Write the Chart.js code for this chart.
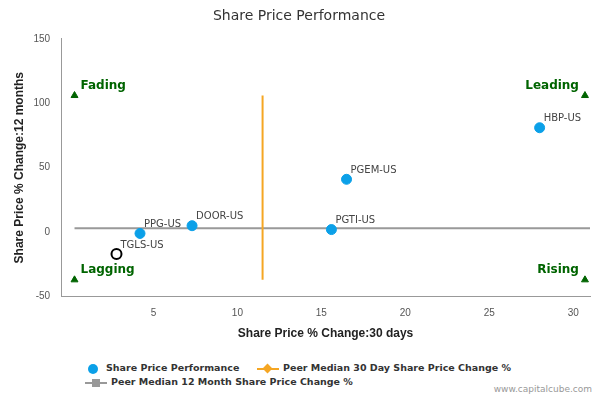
<!DOCTYPE html>
<html><head><meta charset="utf-8">
<script src="https://cdn.jsdelivr.net/npm/chart.js@4/dist/chart.umd.min.js"></script>
<style>
body{margin:0;width:600px;height:400px;background:#fff;font-family:"DejaVu Sans",sans-serif;position:relative}
#wrap{position:absolute;left:0;top:0;width:600px;height:345px}
#leg{position:absolute;left:85px;top:362px;font-size:9.5px;font-weight:bold;color:#333}
.it{position:absolute;white-space:nowrap}
#wm{position:absolute;right:8px;bottom:6px;font-size:9px;color:#999}
</style></head><body>
<div id="wrap"><canvas id="c"></canvas></div>
<div id="leg">
<div class="it" style="left:0;top:0"><span style="display:inline-block;width:10px;height:10px;border-radius:50%;background:#0ba0e8;vertical-align:middle;margin:0 8px 0 3px"></span>Share Price Performance</div>
<div class="it" style="left:172px;top:0"><span style="display:inline-block;width:22px;height:2px;background:#f5a623;vertical-align:middle;margin-right:4px;position:relative"><span style="position:absolute;left:7px;top:-3px;width:7px;height:7px;transform:rotate(45deg);background:#f5a623"></span></span>Peer Median 30 Day Share Price Change %</div>
<div class="it" style="left:0;top:14px"><span style="display:inline-block;width:22px;height:2px;background:#999;vertical-align:middle;margin-right:4px;position:relative"><span style="position:absolute;left:7px;top:-3px;width:8px;height:8px;background:#999"></span></span>Peer Median 12 Month Share Price Change %</div>
</div>
<div id="wm">www.capitalcube.com</div>
<script>
const labels=["HBP-US","PGEM-US","PGTI-US","DOOR-US","PPG-US","TGLS-US"];
const xVals=[28.0,16.5,15.6,7.3,4.2,2.8];
const yVals=[81,41,2,5,-1,-17];
const medianX=11.5, medianY=3;
const xTicks=[5,10,15,20,25,30];
const quadLabels=["Fading","Leading","Lagging","Rising"];
const quadX=[0.3,30.7,0.3,30.7];
const quadY=[106,106,-37,-37];
const pts=xVals.map((x,i)=>({x,y:yVals[i]}));
const main=pts.slice(0,5), own=pts.slice(5);
const lblPlugin={id:'lbl',afterDatasetsDraw(ch){
 const c=ch.ctx,xs=ch.scales.x,ys=ch.scales.y;
 c.save();c.font='10px "DejaVu Sans"';c.fillStyle='#444';c.textBaseline='bottom';
 labels.forEach((l,i)=>{c.textAlign='left';c.fillText(l,xs.getPixelForValue(xVals[i])+4,ys.getPixelForValue(yVals[i])-4);});
 c.font='bold 12px "DejaVu Sans"';c.fillStyle='#006400';
 quadLabels.forEach((l,i)=>{const px=xs.getPixelForValue(quadX[i]),py=ys.getPixelForValue(quadY[i]);
  c.textAlign=i%2?'right':'left';c.fillText(l,px+(i%2?-6:6),py-4);});
 c.restore();}};
new Chart(document.getElementById('c'),{type:'scatter',
data:{datasets:[
 {data:main,backgroundColor:'#0ba0e8',borderColor:'#0ba0e8',pointRadius:5,order:1},
 {data:own,backgroundColor:'#fff',borderColor:'#000',borderWidth:2,pointRadius:5,order:1},
 {type:'line',data:[{x:0.3,y:medianY},{x:31,y:medianY}],borderColor:'#999',borderWidth:2,pointRadius:0,order:3},
 {type:'line',data:[{x:medianX,y:-37},{x:medianX,y:106}],borderColor:'#f5a623',borderWidth:2,pointRadius:0,order:2},
 {data:quadX.map((x,i)=>({x,y:quadY[i]})),pointStyle:'triangle',backgroundColor:'#006400',borderColor:'#006400',pointRadius:4,order:0}
]},
options:{responsive:true,maintainAspectRatio:false,animation:false,
 layout:{padding:{left:8,right:10,top:0,bottom:0}},
 plugins:{legend:{display:false},tooltip:{enabled:false},
  title:{display:true,text:'Share Price Performance',font:{size:14,family:'DejaVu Sans',weight:'normal'},color:'#333',padding:{top:8,bottom:14}}},
 scales:{
  x:{type:'linear',min:-0.5,max:31,afterBuildTicks:s=>{s.ticks=xTicks.map(v=>({value:v}));},ticks:{color:'#555',font:{size:10}},
   grid:{display:false},border:{color:'#999'},
   title:{display:true,text:'Share Price % Change:30 days',font:{size:12,weight:'bold'},color:'#222'}},
  y:{min:-50,max:150,ticks:{stepSize:50,color:'#555',font:{size:10}},grid:{display:false},border:{color:'#999'},
   title:{display:true,text:'Share Price % Change:12 months',font:{size:12,weight:'bold'},color:'#222'}}
 }},plugins:[lblPlugin]});
</script></body></html>
